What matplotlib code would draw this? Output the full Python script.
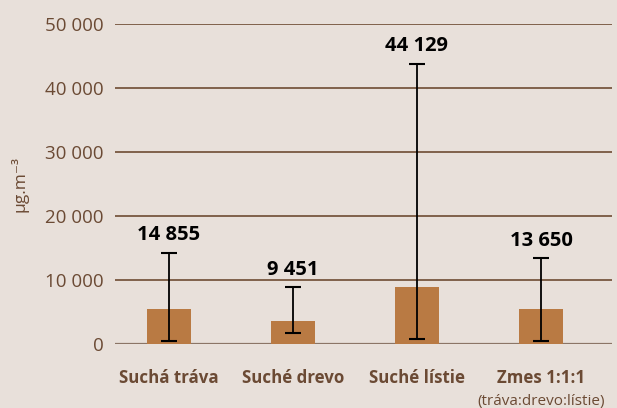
import numpy as np
import matplotlib.pyplot as plt

categories = ['Suchá tráva', 'Suché drevo', 'Suché lístie', 'Zmes 1:1:1']
means = [5450, 3600, 8900, 5450]
err_low = [520, 1720, 780, 470]
err_high = [14270, 8900, 43800, 13440]
labels = ['14 855', '9 451', '44 129', '13 650']
yticks = [0, 10000, 20000, 30000, 40000, 50000]
ytick_labels = ['0', '10 000', '20 000', '30 000', '40 000', '50 000']

bg = '#e8e0da'
brown = '#6b4a34'

plt.rcParams['font.family'] = ['Open Sans', 'DejaVu Sans']

fig = plt.figure(figsize=(6.17, 4.08), dpi=100, facecolor=bg)
ax = fig.add_axes([0.1864, 0.157, 0.8056, 0.784], facecolor=bg)

x = np.arange(len(categories))
means = np.array(means)
yerr = [means - np.array(err_low), np.array(err_high) - means]

for y in yticks[1:]:
    ax.axhline(y, color='#6e4c33', lw=1.2, zorder=1)
ax.axhline(0, color='#8b7566', lw=1.6, zorder=1)

ax.bar(x, means, width=0.356, color='#b97a43', zorder=2)
ax.errorbar(x, means, yerr=yerr, fmt='none', ecolor='black', elinewidth=1.3,
            capsize=6, capthick=1.5, zorder=3)

for xi, hi, lab in zip(x, err_high, labels):
    ax.annotate(lab, (xi, hi), xytext=(0, 12.5), textcoords='offset points',
                ha='center', va='center', fontsize=14.5, fontweight='bold', color='black')

ax.set_ylim(0, 50000)
ax.set_xlim(-0.435, 3.573)
ax.set_yticks(yticks)
ax.set_yticklabels(ytick_labels, fontsize=13.5, color=brown)
ax.tick_params(axis='y', length=0, pad=8)
ax.set_xticks(x)
ax.set_xticklabels(categories, fontsize=12.2, fontweight='bold', color=brown)
ax.tick_params(axis='x', length=0, pad=18)
for s in ax.spines.values():
    s.set_visible(False)

ax.text(3, -0.18, '(tráva:drevo:lístie)', transform=ax.get_xaxis_transform(),
        ha='center', va='center', fontsize=11, color=brown)

ax.set_ylabel('µg.m⁻³', fontsize=12.5, color=brown, labelpad=12)

fig.savefig('out.png', dpi=100, facecolor=bg)
